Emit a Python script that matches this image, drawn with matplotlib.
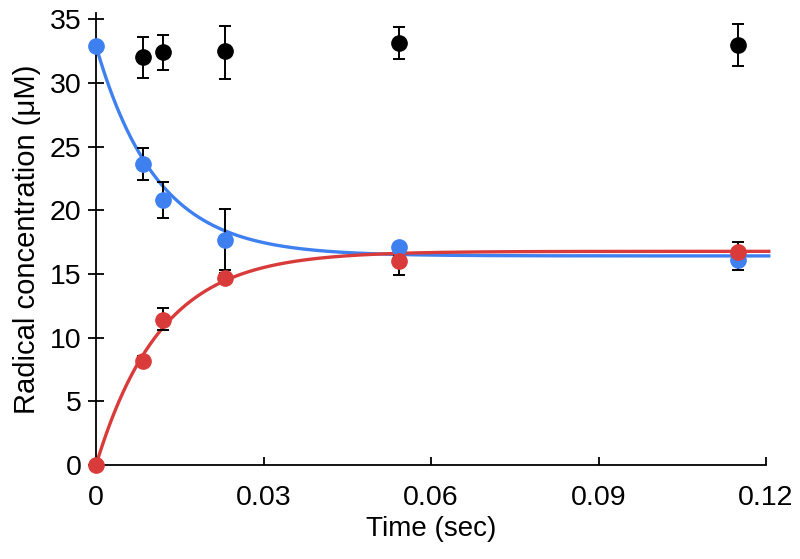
import numpy as np
import matplotlib
matplotlib.use("Agg")
import matplotlib.pyplot as plt

plt.rcParams['font.family'] = ['Liberation Sans', 'DejaVu Sans']

# measured time points (sec)
t_black = [0.0084, 0.012, 0.0231, 0.0543, 0.115]
y_black = [32.0, 32.4, 32.5, 33.15, 33.0]
lo_black = [1.6, 1.4, 2.2, 1.25, 1.7]
hi_black = [1.6, 1.4, 2.0, 1.25, 1.6]

t_blue = [0.0, 0.0084, 0.012, 0.0231, 0.0543, 0.115]
y_blue = [32.9, 23.6, 20.8, 17.7, 17.1, 16.1]
lo_blue = [0.0, 1.2, 1.4, 2.4, 0.3, 0.8]
hi_blue = [0.0, 1.3, 1.4, 2.4, 0.3, 0.7]

t_red = [0.0, 0.0084, 0.012, 0.0231, 0.0543, 0.115]
y_red = [0.0, 8.2, 11.4, 14.7, 16.05, 16.7]
lo_red = [0.0, 0.4, 0.8, 0.4, 1.15, 0.4]
hi_red = [0.0, 0.4, 0.9, 0.4, 0.4, 0.85]

# single-exponential fits drawn through the data
blue_start, blue_end, k_blue = 32.9, 16.42, 92.0
red_end, k_red = 16.78, 86.0

blue_c = '#3f80f0'
red_c = '#d93b3b'

fig = plt.figure(figsize=(8.0, 5.59), dpi=100)
ax = fig.add_axes([0.12, 0.168, 0.8375, 0.809])

tt = np.linspace(0, 0.1205, 400)
ax.plot(tt, blue_end + (blue_start - blue_end) * np.exp(-k_blue * tt),
        color=blue_c, lw=2.4, clip_on=False, zorder=2)
ax.plot(tt, red_end * (1 - np.exp(-k_red * tt)),
        color=red_c, lw=2.4, clip_on=False, zorder=2)

ekw = dict(fmt='o', ms=11, capsize=4, elinewidth=1.4, capthick=1.4,
           ecolor='black', clip_on=False)
ax.errorbar(t_black, y_black, yerr=[lo_black, hi_black], color='black', zorder=3, **ekw)
ax.errorbar(t_blue, y_blue, yerr=[lo_blue, hi_blue], color=blue_c, zorder=3, **ekw)
ax.errorbar(t_red, y_red, yerr=[lo_red, hi_red], color=red_c, zorder=4, **ekw)

ax.set_xlim(0, 0.12)
ax.set_ylim(0, 35.5)
ax.set_xticks([0, 0.03, 0.06, 0.09, 0.12])
ax.set_xticklabels(['0', '0.03', '0.06', '0.09', '0.12'])
ax.set_yticks(range(0, 36, 5))

for s in ['top', 'right']:
    ax.spines[s].set_visible(False)
for s in ['left', 'bottom']:
    ax.spines[s].set_linewidth(1.3)

ax.tick_params(axis='x', direction='in', length=6, width=1.3, labelsize=20.5, pad=14)
ax.tick_params(axis='y', direction='inout', length=11, width=1.3, labelsize=20.5, pad=5)

ax.set_xlabel('Time (sec)', fontsize=20, labelpad=4)
ax.set_ylabel('Radical concentration (μM)', fontsize=21, labelpad=6)

fig.savefig('out.png', dpi=100)
